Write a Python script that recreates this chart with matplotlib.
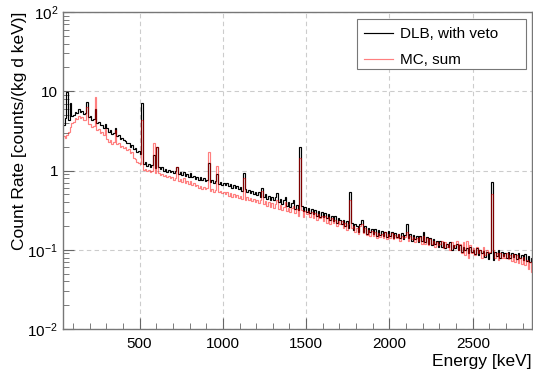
import numpy as np
import matplotlib
matplotlib.use("Agg")
import matplotlib.pyplot as plt
from matplotlib.patches import Rectangle
from matplotlib.ticker import FixedLocator, FixedFormatter, MultipleLocator, NullFormatter

plt.rcParams['font.family'] = ['Liberation Sans', 'DejaVu Sans']
plt.rcParams['mathtext.fontset'] = 'custom'
plt.rcParams['mathtext.rm'] = 'Liberation Sans'
plt.rcParams['mathtext.it'] = 'Liberation Sans'

# bin edges in keV (10 keV bins)
e_lo = 40
e_hi = 2860
bin_w = 10

# DLB data with veto, counts/(kg d keV)
dlb = [
    3.8, 4.6, 9.8, 4.4, 7.2, 4.9,
    5.0, 5.4, 5.3, 5.9, 5.5, 5.6, 5.1, 5.3, 7.3, 4.8,
    4.9, 4.4, 4.5, 5.9, 4.0, 4.1, 3.7, 3.8, 3.4, 3.9,
    3.4, 3.1, 3.2, 2.9, 3.0, 3.4, 2.7, 2.8, 2.5, 2.6,
    2.4, 2.35, 2.2, 2.25, 2.0, 2.1, 1.85, 1.9, 1.7, 1.75,
    1.6, 7.1, 1.2, 1.3, 1.15, 1.2, 1.1, 1.18, 1.55, 1.08,
    2.0, 1.12, 1.04, 1.1, 1.0, 1.06, 0.97, 1.03, 0.95, 1.0,
    0.93, 0.98, 1.1, 0.9, 0.95, 0.87, 0.97, 0.86, 0.9, 0.83,
    0.92, 0.82, 0.86, 0.79, 0.84, 0.77, 0.82, 0.76, 0.8, 0.74,
    0.77, 1.25, 0.72, 0.76, 0.7, 0.74, 0.9, 0.68, 0.72, 0.66,
    0.7, 0.65, 0.69, 0.63, 0.67, 0.61, 0.65, 0.6, 0.64, 0.58,
    0.62, 0.56, 0.93, 0.58, 0.54, 0.57, 0.52, 0.56, 0.5, 0.54,
    0.49, 0.53, 0.47, 0.6, 0.46, 0.5, 0.44, 0.48, 0.43, 0.47,
    0.42, 0.46, 0.52, 0.4, 0.44, 0.38, 0.42, 0.47, 0.36, 0.4,
    0.35, 0.39, 0.42, 0.33, 0.37, 0.32, 2.0, 0.36, 0.31, 0.35,
    0.3, 0.34, 0.29, 0.33, 0.28, 0.32, 0.27, 0.31, 0.26, 0.3,
    0.26, 0.29, 0.25, 0.28, 0.24, 0.27, 0.23, 0.27, 0.22, 0.25,
    0.24, 0.21, 0.24, 0.2, 0.23, 0.19, 0.54, 0.22, 0.18, 0.21,
    0.2, 0.17, 0.21, 0.24, 0.17, 0.2, 0.16, 0.19, 0.17, 0.185,
    0.16, 0.185, 0.15, 0.18, 0.155, 0.175, 0.15, 0.17, 0.145, 0.175,
    0.15, 0.17, 0.14, 0.165, 0.145, 0.16, 0.14, 0.165, 0.135, 0.155,
    0.21, 0.14, 0.16, 0.13, 0.155, 0.135, 0.15, 0.125, 0.15, 0.13,
    0.17, 0.125, 0.145, 0.12, 0.14, 0.115, 0.135, 0.12, 0.13, 0.11,
    0.13, 0.11, 0.125, 0.105, 0.12, 0.11, 0.125, 0.1, 0.115, 0.105,
    0.12, 0.1, 0.115, 0.095, 0.11, 0.1, 0.105, 0.09, 0.11, 0.095,
    0.1, 0.088, 0.105, 0.085, 0.1, 0.09, 0.098, 0.082, 0.095, 0.076,
    0.092, 0.72, 0.075, 0.095, 0.084, 0.1, 0.08, 0.095, 0.083, 0.092,
    0.08, 0.094, 0.078, 0.09, 0.082, 0.088, 0.076, 0.09, 0.079, 0.085,
    0.075, 0.088, 0.072, 0.084, 0.07, 0.08,
]

# MC sum
mc = [
    2.7, 2.55, 2.8, 3.05, 3.5, 3.95,
    4.1, 4.6, 4.5, 4.9, 4.6, 4.7, 4.3, 4.4, 6.3, 3.9,
    3.9, 3.5, 3.6, 8.5, 3.2, 3.3, 3.0, 3.1, 2.8, 3.3,
    2.5, 2.3, 2.45, 2.15, 2.3, 3.2, 2.15, 2.2, 2.0, 2.05,
    1.95, 2.0, 1.8, 1.85, 1.65, 1.7, 1.45, 1.4, 1.3, 1.25,
    1.2, 4.3, 1.02, 1.06, 0.98, 1.02, 0.95, 0.99, 2.2, 0.92,
    2.0, 0.92, 0.87, 0.91, 0.85, 0.88, 0.82, 0.86, 0.8, 0.83,
    0.77, 0.8, 1.1, 0.74, 0.78, 0.72, 0.8, 0.7, 0.73, 0.68,
    0.74, 0.66, 0.69, 0.63, 0.66, 0.61, 0.64, 0.59, 0.62, 0.58,
    0.6, 1.7, 0.56, 0.59, 0.54, 0.57, 1.15, 0.53, 0.56, 0.52,
    0.54, 0.5, 0.53, 0.48, 0.52, 0.47, 0.5, 0.46, 0.49, 0.45,
    0.48, 0.44, 0.8, 0.43, 0.46, 0.42, 0.45, 0.41, 0.44, 0.4,
    0.43, 0.39, 0.42, 0.55, 0.38, 0.41, 0.36, 0.4, 0.35, 0.39,
    0.34, 0.38, 0.42, 0.33, 0.37, 0.32, 0.35, 0.4, 0.31, 0.34,
    0.3, 0.34, 0.36, 0.29, 0.33, 0.27, 1.43, 0.32, 0.26, 0.31,
    0.28, 0.31, 0.26, 0.3, 0.25, 0.29, 0.24, 0.28, 0.25, 0.27,
    0.23, 0.27, 0.22, 0.26, 0.21, 0.25, 0.22, 0.24, 0.2, 0.23,
    0.21, 0.23, 0.19, 0.22, 0.18, 0.21, 0.42, 0.19, 0.2, 0.17,
    0.19, 0.16, 0.2, 0.21, 0.165, 0.19, 0.155, 0.18, 0.15, 0.175,
    0.15, 0.17, 0.14, 0.165, 0.145, 0.16, 0.14, 0.17, 0.135, 0.16,
    0.14, 0.165, 0.135, 0.155, 0.14, 0.16, 0.13, 0.15, 0.14, 0.145,
    0.17, 0.13, 0.15, 0.135, 0.145, 0.125, 0.14, 0.13, 0.145, 0.12,
    0.15, 0.12, 0.14, 0.115, 0.135, 0.12, 0.13, 0.11, 0.125, 0.115,
    0.12, 0.13, 0.105, 0.125, 0.11, 0.12, 0.1, 0.125, 0.105, 0.115,
    0.13, 0.1, 0.12, 0.09, 0.125, 0.085, 0.13, 0.08, 0.115, 0.09,
    0.105, 0.085, 0.11, 0.09, 0.1, 0.08, 0.11, 0.085, 0.1, 0.09,
    0.095, 0.505, 0.1, 0.08, 0.092, 0.075, 0.09, 0.08, 0.088, 0.078,
    0.09, 0.076, 0.085, 0.072, 0.088, 0.07, 0.085, 0.068, 0.08, 0.066,
    0.082, 0.064, 0.075, 0.058, 0.07, 0.052,
]

edges = np.arange(e_lo, e_hi + bin_w, bin_w)

fig = plt.figure(figsize=(5.33, 3.74), dpi=100)
ax = fig.add_axes([0.118, 0.12, 0.880, 0.848])

ax.stairs(dlb, edges, color='black', lw=0.85, baseline=None, label='DLB, with veto')
ax.stairs(mc, edges, color='red', alpha=0.5, lw=0.85, baseline=None, label='MC, sum')

ax.set_yscale('log')
ax.set_xlim(e_lo, 2855)
ax.set_ylim(1e-2, 1e2)

ax.xaxis.set_major_locator(MultipleLocator(500))
ax.xaxis.set_minor_locator(MultipleLocator(100))
ax.yaxis.set_major_locator(FixedLocator([1e-2, 1e-1, 1, 10, 100]))
ax.yaxis.set_major_formatter(FixedFormatter(['$10^{-2}$', '$10^{-1}$', '1', '10', '$10^{2}$']))
ax.yaxis.set_minor_formatter(NullFormatter())

ax.tick_params(which='both', direction='in', top=False, right=False, labelsize=11,
               color='#666666')
ax.tick_params(which='major', length=8)
ax.tick_params(which='minor', length=4)
ax.tick_params(axis='x', pad=6)

for s in ax.spines.values():
    s.set_color('#777777')
    s.set_linewidth(1.0)

ax.grid(True, which='major', ls=(0, (4, 3)), color='#cccccc', lw=0.8)
ax.set_axisbelow(True)

ax.set_xlabel('Energy [keV]', fontsize=12.5, loc='right', labelpad=2)
ax.set_ylabel('Count Rate [counts/(kg d keV)]', fontsize=12.5, loc='top', labelpad=0)

# legend box of fixed size, ROOT style
ax.add_patch(Rectangle((0.627, 0.820), 0.360, 0.158, transform=ax.transAxes,
                       facecolor='white', edgecolor='#777777', lw=0.8, zorder=4))
leg = ax.legend(loc='upper left', bbox_to_anchor=(0.642, 0.953), borderaxespad=0,
                borderpad=0, fontsize=11, frameon=False, handlelength=1.9,
                handletextpad=0.45, labelspacing=0.8)
leg.set_zorder(5)

fig.savefig('out.png', dpi=100)
